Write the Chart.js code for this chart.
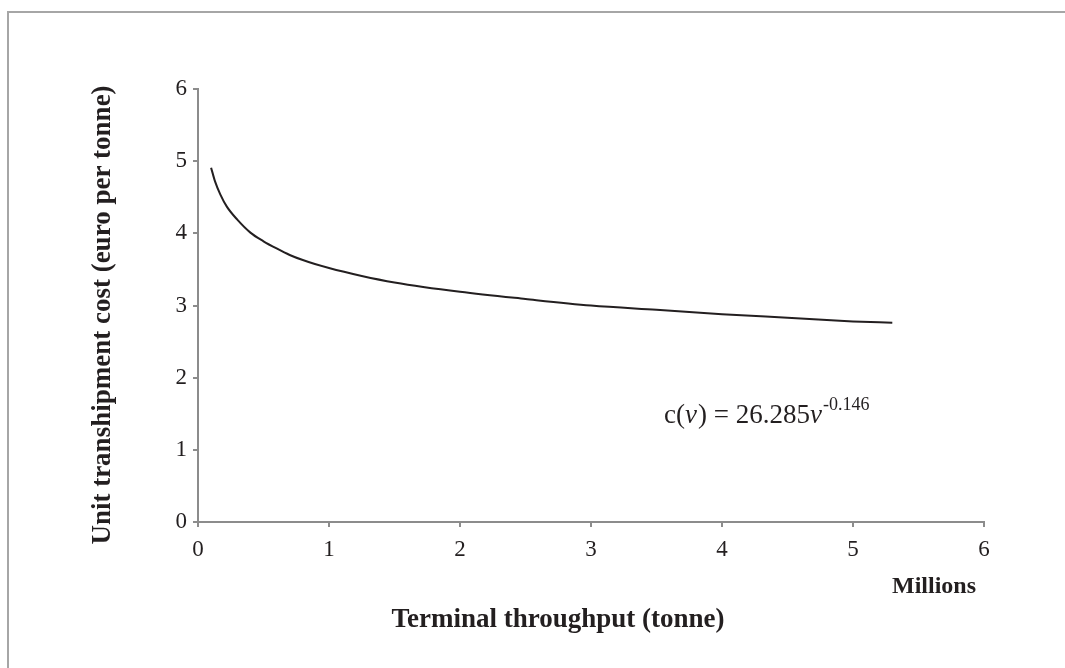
<!DOCTYPE html>
<html><head><meta charset="utf-8">
<script src="https://cdn.jsdelivr.net/npm/chart.js@4/dist/chart.umd.min.js"></script>
<style>html,body{margin:0;padding:0;background:#fff}#c{display:block}</style>
</head><body>
<canvas id="c" width="1065" height="668"></canvas>
<script>
// Throughput in millions of tonnes, cost in euro per tonne
const throughput = [0.1, 0.13, 0.17, 0.22, 0.3, 0.4, 0.5, 0.6, 0.7, 0.8, 1.0, 1.25, 1.5, 2.0, 2.5, 3.0, 3.5, 4.0, 4.5, 5.0, 5.3];
const unitCost   = [4.91, 4.72, 4.54, 4.37, 4.19, 4.01, 3.89, 3.79, 3.70, 3.63, 3.52, 3.41, 3.32, 3.19, 3.09, 3.00, 2.94, 2.88, 2.83, 2.78, 2.76];
const xTicks = [0, 1, 2, 3, 4, 5, 6];
const yTicks = [0, 1, 2, 3, 4, 5, 6];
const xTitle = 'Terminal throughput (tonne)';
const yTitle = 'Unit transhipment cost (euro per tonne)';
const unitLabel = 'Millions';
const equation = {base: 'c(', v: 'ν', mid: ') = 26.285', exp: '-0.146'};

const serif = '"Liberation Serif", "DejaVu Serif", serif';
const axisGray = '#8c8c8c';
const ink = '#231f20';

const decor = {
  id: 'decor',
  beforeDraw(chart) {
    const ctx = chart.ctx;
    ctx.save();
    ctx.fillStyle = '#fff';
    ctx.fillRect(0, 0, chart.width, chart.height);
    ctx.strokeStyle = '#a6a6a6';
    ctx.lineWidth = 2;
    ctx.strokeRect(8, 12, 1200, 800);
    ctx.restore();
  },
  afterDraw(chart) {
    const ctx = chart.ctx;
    ctx.save();
    ctx.fillStyle = ink;
    // y title
    ctx.font = 'bold 27px ' + serif;
    ctx.textAlign = 'center';
    ctx.textBaseline = 'middle';
    ctx.save();
    ctx.translate(103, 315);
    ctx.rotate(-Math.PI / 2);
    ctx.fillText(yTitle, 0, 0);
    ctx.restore();
    // x title
    ctx.fillText(xTitle, 558, 620);
    // Millions
    ctx.font = 'bold 24px ' + serif;
    ctx.textAlign = 'left';
    ctx.fillText(unitLabel, 892, 587);
    // equation
    ctx.textBaseline = 'alphabetic';
    let x = 664, y = 423;
    ctx.font = '27px ' + serif;
    ctx.fillText(equation.base, x, y); x += ctx.measureText(equation.base).width;
    ctx.font = 'italic 27px ' + serif;
    ctx.fillText(equation.v, x, y); x += ctx.measureText(equation.v).width + 1;
    ctx.font = '27px ' + serif;
    ctx.fillText(equation.mid, x, y); x += ctx.measureText(equation.mid).width;
    ctx.font = 'italic 27px ' + serif;
    ctx.fillText(equation.v, x, y); x += ctx.measureText(equation.v).width + 1;
    ctx.font = '18px ' + serif;
    ctx.fillText(equation.exp, x, y - 13);
    ctx.restore();
  }
};

new Chart(document.getElementById('c'), {
  type: 'line',
  data: {
    datasets: [{
      data: throughput.map((v, i) => ({x: v, y: unitCost[i]})),
      borderColor: ink,
      borderWidth: 2,
      pointRadius: 0,
      cubicInterpolationMode: 'monotone',
      fill: false
    }]
  },
  options: {
    responsive: false,
    animation: false,
    devicePixelRatio: 1,
    layout: {padding: {left: 0, right: 81, top: 89, bottom: 0}},
    plugins: {legend: {display: false}, tooltip: {enabled: false}},
    scales: {
      x: {
        type: 'linear', min: 0, max: 6,
        afterBuildTicks: s => { s.ticks = xTicks.map(v => ({value: v})); },
        afterFit: s => { s.height = 146; },
        grid: {display: true, drawOnChartArea: false, drawTicks: true, tickLength: 5, color: axisGray, lineWidth: 2},
        border: {display: true, color: axisGray, width: 2},
        ticks: {color: ink, font: {family: serif, size: 23}, padding: 9, maxRotation: 0}
      },
      y: {
        type: 'linear', min: 0, max: 6,
        afterBuildTicks: s => { s.ticks = yTicks.map(v => ({value: v})); },
        afterFit: s => { s.width = 198; },
        grid: {display: true, drawOnChartArea: false, drawTicks: true, tickLength: 5, color: axisGray, lineWidth: 2},
        border: {display: true, color: axisGray, width: 2},
        ticks: {color: ink, font: {family: serif, size: 23}, padding: 6}
      }
    }
  },
  plugins: [decor]
});
</script>
</body></html>
